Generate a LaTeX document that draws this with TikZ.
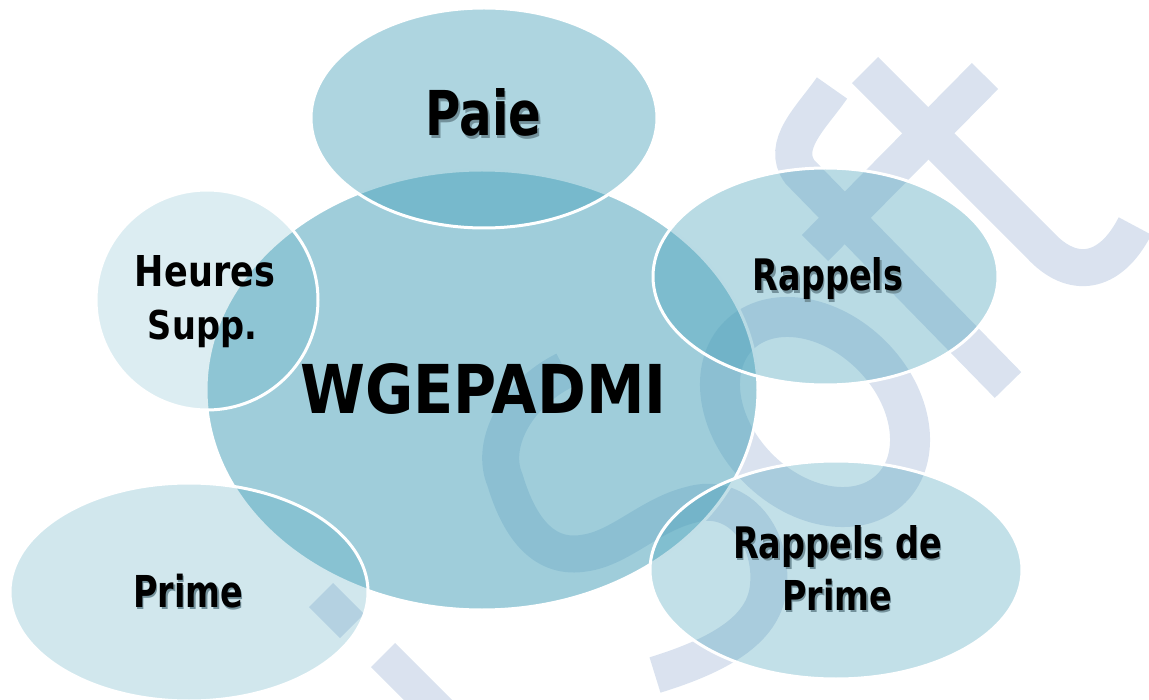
\documentclass[tikz,border=0pt]{standalone}
\usepackage{fontspec}
\usepackage{graphicx}
\setmainfont{DejaVu Sans}
\definecolor{acc}{RGB}{70,160,185}
\definecolor{wm}{RGB}{218,226,239}
\definecolor{shc}{RGB}{115,145,155}
\newcommand{\lblbox}[3]{\resizebox{#1pt}{#2pt}{\bfseries #3}}
\newcommand{\shlblbox}[3]{\makebox[0pt][l]{\hspace*{1.6pt}\raisebox{-2.2pt}{\color{shc}\resizebox{#1pt}{#2pt}{\bfseries #3}}}\resizebox{#1pt}{#2pt}{\bfseries #3}}
\tikzset{
  bubble/.style={fill=acc, draw=white, line width=3pt},
  wmark/.style={draw=wm, line width=37pt, line cap=butt},
  lbl/.style={anchor=base, inner sep=0pt, text=black},
}
\begin{document}
\begin{tikzpicture}[x=1pt, y=-1pt]
\useasboundingbox (0,0) rectangle (1149,700);
% watermark
\draw[wmark] (832,88) .. controls (812,117) and (780,145) .. (800,172) -- (1008,385);
\draw[wmark] (985,76) -- (815,248);
\draw[wmark] (865,70) -- (1040,245) .. controls (1072,280) and (1110,275) .. (1135,226);
\draw[wmark, line width=40pt, rotate around={-45:(815,412)}] (815,412) ellipse [x radius=108pt, y radius=80pt];
\draw[wmark] (565,370) .. controls (515,395) and (490,445) .. (505,480)
  .. controls (520,530) and (545,560) .. (585,553)
  .. controls (620,548) and (650,515) .. (690,505)
  .. controls (740,490) and (775,540) .. (768,590)
  .. controls (762,630) and (720,655) .. (655,675);
\draw[wmark, line width=34pt] (321,595) -- (352,626);
\draw[wmark, line width=34pt] (383,655) -- (450,722);
% bubbles
\path[bubble, fill opacity=0.52] (482,390) ellipse [x radius=276pt, y radius=220pt];
\path[bubble, fill opacity=0.44] (484,118) ellipse [x radius=173pt, y radius=110pt];
\path[bubble, fill opacity=0.19] (207,300) ellipse [x radius=111pt, y radius=110pt];
\path[bubble, fill opacity=0.38] (825.5,276.5) ellipse [x radius=172.5pt, y radius=108.5pt];
\path[bubble, fill opacity=0.33] (836,570) ellipse [x radius=186pt, y radius=109pt];
\path[bubble, fill opacity=0.25] (189,592) ellipse [x radius=179pt, y radius=109pt];
% labels
\node[lbl] (center) at (483.5,414) {\lblbox{366}{50}{WGEPADMI}};
\node[lbl] (paie) at (483.5,136) {\shlblbox{116}{47}{Paie}};
\node[lbl] (rappels) at (828,291) {\shlblbox{150}{33}{Rappels}};
\node[lbl] (heures1) at (205,287) {\lblbox{140}{31}{Heures}};
\node[lbl] (heures2) at (202.5,340) {\lblbox{109}{29.5}{Supp.}};
\node[lbl] (rdp1) at (837.5,558) {\shlblbox{209}{33}{Rappels de}};
\node[lbl] (rdp2) at (837,610) {\shlblbox{110}{31.3}{Prime}};
\node[lbl] (prime) at (188,607) {\shlblbox{110}{33.4}{Prime}};
\end{tikzpicture}
\end{document}
